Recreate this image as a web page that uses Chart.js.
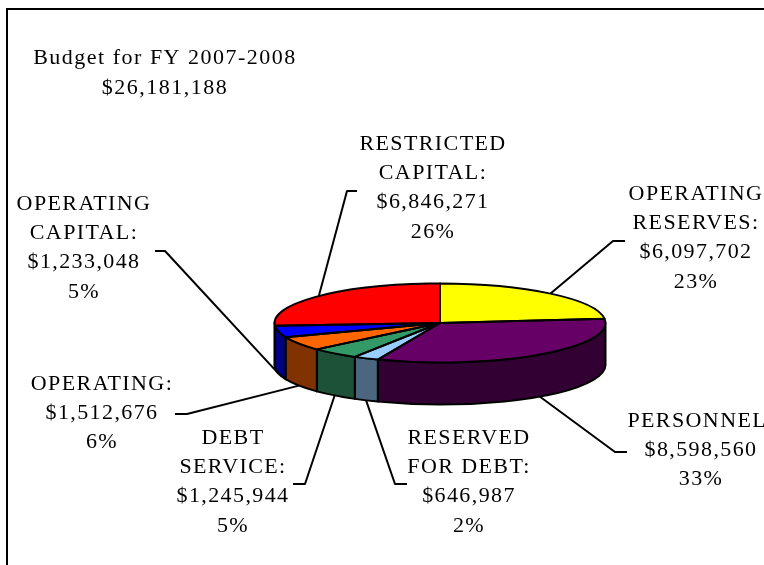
<!DOCTYPE html>
<html lang="en">

<head>
    <meta charset="UTF-8">
    <title>Budget for FY 2007-2008</title>
    <script src="https://cdn.jsdelivr.net/npm/chart.js"></script>
    <style>
        html, body { margin: 0; padding: 0; background: #fff; overflow: hidden; }
        #grafico { position: absolute; left: 0; top: 0; }
        #moldura { position: absolute; left: 6px; top: 8px; width: 770px; height: 570px; border-left: 2px solid #000; border-top: 2px solid #000; }
    </style>
</head>

<body>
    <canvas id="grafico" width="764" height="565"></canvas>
    <div id="moldura"></div>

    <script>
        const titleLines = ['Budget for FY 2007-2008', '$26,181,188'];
        const categories = ['OPERATING RESERVES', 'PERSONNEL', 'RESERVED FOR DEBT', 'DEBT SERVICE', 'OPERATING', 'OPERATING CAPITAL', 'RESTRICTED CAPITAL'];
        const amounts = [6097702, 8598560, 646987, 1245944, 1512676, 1233048, 6846271];
        const amountLabels = ['$6,097,702', '$8,598,560', '$646,987', '$1,245,944', '$1,512,676', '$1,233,048', '$6,846,271'];
        const percentLabels = ['23%', '33%', '2%', '5%', '6%', '5%', '26%'];
        const nameLines = [['OPERATING', 'RESERVES:'], ['PERSONNEL:'], ['RESERVED', 'FOR DEBT:'], ['DEBT', 'SERVICE:'], ['OPERATING:'], ['OPERATING', 'CAPITAL:'], ['RESTRICTED', 'CAPITAL:']];

        const topColors = ['#ffff00', '#660066', '#99ccff', '#339966', '#ff6600', '#0000ff', '#ff0000'];
        const sideColors = ['#808000', '#330033', '#4d6680', '#1d5238', '#803300', '#000080', '#800000'];

        // label centre x, first line y, then leader elbow and leader end
        const labelX = [696, 701, 469, 233, 102, 84, 433];
        const labelY = [194, 421, 438, 438, 384, 204, 144];
        const elbowPoints = [[613, 241], [615, 452], [395, 484], [305, 484], [187, 414], [165, 251], [347, 191]];
        const leaderEnds = [[625, 241], [627, 452], [407, 484], [293, 484], [175, 414], [155, 251], [357, 191]];

        const centerY = 323;
        const radiusY = 39.5;
        const depth = 42;
        const lineGap = 29.3;
        const textFont = '22px "Liberation Serif"';

        function ellipseOf(arc) {
            return { x: arc.x, y: centerY, rx: arc.outerRadius, ry: radiusY };
        }

        const pie3d = {
            id: 'pie3d',
            beforeDatasetsDraw(chart) {
                const ctx = chart.ctx;
                const arcs = chart.getDatasetMeta(0).data;
                ctx.save();
                ctx.strokeStyle = '#000';
                ctx.lineWidth = 2;
                ctx.lineJoin = 'round';

                // the wall of the cake, only the front half can be seen
                arcs.forEach((arc, i) => {
                    const a1 = Math.max(arc.startAngle, 0);
                    const a2 = Math.min(arc.endAngle, Math.PI);
                    if (a2 <= a1) return;
                    const e = ellipseOf(arc);
                    ctx.beginPath();
                    ctx.ellipse(e.x, e.y, e.rx, e.ry, 0, a1, a2);
                    ctx.ellipse(e.x, e.y + depth, e.rx, e.ry, 0, a2, a1, true);
                    ctx.closePath();
                    ctx.fillStyle = sideColors[i];
                    ctx.fill();
                    ctx.stroke();
                });
                ctx.restore();

                // squash the pie for the library's own arcs
                const first = arcs[0];
                const k = radiusY / first.outerRadius;
                ctx.save();
                ctx.translate(0, centerY);
                ctx.scale(1, k);
                ctx.translate(0, -first.y);
            },
            afterDatasetsDraw(chart) {
                const ctx = chart.ctx;
                const arcs = chart.getDatasetMeta(0).data;
                ctx.restore();

                ctx.save();
                ctx.strokeStyle = '#000';
                ctx.lineWidth = 2;
                ctx.lineJoin = 'round';
                arcs.forEach(arc => {
                    const e = ellipseOf(arc);
                    ctx.beginPath();
                    ctx.moveTo(e.x, e.y);
                    ctx.ellipse(e.x, e.y, e.rx, e.ry, 0, arc.startAngle, arc.endAngle);
                    ctx.closePath();
                    ctx.stroke();
                });

                // leader lines start on the rim at the middle of each slice
                arcs.forEach((arc, i) => {
                    const e = ellipseOf(arc);
                    const mid = (arc.startAngle + arc.endAngle) / 2;
                    const front = Math.sin(mid) > 0;
                    ctx.beginPath();
                    ctx.moveTo(e.x + e.rx * Math.cos(mid), e.y + e.ry * Math.sin(mid) + (front ? depth : 0));
                    ctx.lineTo(elbowPoints[i][0], elbowPoints[i][1]);
                    ctx.lineTo(leaderEnds[i][0], leaderEnds[i][1]);
                    ctx.stroke();
                });

                // text
                ctx.fillStyle = '#000';
                ctx.font = textFont;
                ctx.textAlign = 'center';
                ctx.textBaseline = 'middle';
                ctx.letterSpacing = '1.5px';
                ctx.fillText(titleLines[0], 165, 58);
                ctx.fillText(titleLines[1], 165, 88);

                ctx.letterSpacing = '1.4px';
                categories.forEach((name, i) => {
                    const lines = nameLines[i].concat([amountLabels[i], percentLabels[i]]);
                    lines.forEach((line, n) => {
                        ctx.fillText(line, labelX[i], labelY[i] + n * lineGap);
                    });
                });
                ctx.restore();
            }
        };

        new Chart(document.getElementById('grafico').getContext('2d'), {
            type: 'pie',
            data: {
                labels: categories,
                datasets: [{
                    data: amounts,
                    backgroundColor: topColors,
                    borderWidth: 0,
                    clip: false
                }]
            },
            options: {
                responsive: false,
                animation: false,
                layout: { padding: { left: 274.5, right: 158.5, top: 0, bottom: 0 } },
                plugins: { legend: { display: false }, tooltip: { enabled: false } }
            },
            plugins: [pie3d]
        });
    </script>
</body>

</html>
